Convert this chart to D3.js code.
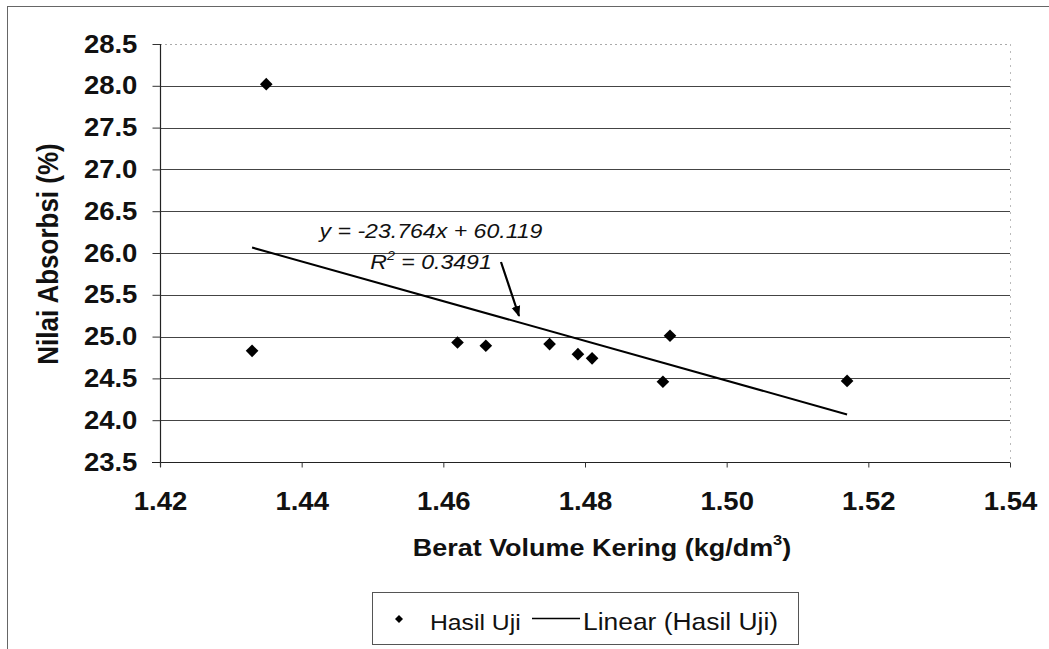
<!DOCTYPE html>
<html>
<head>
<meta charset="utf-8">
<script src="https://cdn.jsdelivr.net/npm/d3@7"></script>
<style>
  html, body { margin: 0; padding: 0; background: #fff; }
  svg { display: block; font-family: "Liberation Sans", Arial, sans-serif; }
</style>
</head>
<body>
<svg id="chart" width="1049" height="649"></svg>
<script>
// Dry unit weight (kg/dm³) and absorption (%) of the test specimens
const dryDensity = [1.433, 1.435, 1.462, 1.466, 1.475, 1.479, 1.481, 1.491, 1.492, 1.517];
const absorption = [24.83, 28.02, 24.93, 24.89, 24.91, 24.79, 24.74, 24.46, 25.01, 24.47];

// Linear trendline reported on the chart
const trendSlope = -23.764;
const trendIntercept = 60.119;
const trendR2 = 0.3491;

// Axis ticks
const xTicks = [1.42, 1.44, 1.46, 1.48, 1.50, 1.52, 1.54];
const yTicks = [23.5, 24.0, 24.5, 25.0, 25.5, 26.0, 26.5, 27.0, 27.5, 28.0, 28.5];

const svg = d3.select("#chart");
const plot = { left: 160, right: 1010, top: 44, bottom: 462 };
const SX = 1.1; // horizontal glyph stretch

const x = d3.scaleLinear().domain([1.42, 1.54]).range([plot.left, plot.right]);
const y = d3.scaleLinear().domain([23.5, 28.5]).range([plot.bottom, plot.top]);

// outer chart frame
svg.append("rect")
  .attr("x", 7.5).attr("y", 6.5)
  .attr("width", 1100).attr("height", 700)
  .attr("fill", "none").attr("stroke", "#666").attr("stroke-width", 1);

// horizontal gridlines
svg.append("g").selectAll("line")
  .data(yTicks.filter(d => d > 23.5))
  .join("line")
  .attr("x1", plot.left).attr("x2", plot.right)
  .attr("y1", d => Math.round(y(d)) + 0.5).attr("y2", d => Math.round(y(d)) + 0.5)
  .attr("stroke", d => d === 28.5 ? "#aaa" : "#444")
  .attr("stroke-width", d => d === 28.5 ? 1 : 1.2)
  .attr("stroke-dasharray", d => d === 28.5 ? "2,3" : null);

// right edge of plot area
svg.append("line")
  .attr("x1", plot.right + 0.5).attr("x2", plot.right + 0.5)
  .attr("y1", plot.top).attr("y2", plot.bottom)
  .attr("stroke", "#bbb").attr("stroke-dasharray", "2,5");

// y axis
const yAxis = svg.append("g")
  .attr("transform", `translate(${plot.left + 0.5},0)`)
  .call(d3.axisLeft(y).tickValues(yTicks).tickFormat(d3.format(".1f"))
    .tickSize(8).tickSizeOuter(0).tickPadding(13));

// x axis
const xAxis = svg.append("g")
  .attr("transform", `translate(0,${plot.bottom + 0.5})`)
  .call(d3.axisBottom(x).tickValues(xTicks).tickFormat(d3.format(".2f"))
    .tickSize(5).tickSizeOuter(0).tickPadding(25));

[yAxis, xAxis].forEach(ax => {
  ax.select(".domain").attr("stroke", "#222").attr("stroke-width", 1.2);
  ax.selectAll(".tick line").attr("stroke", "#333");
  ax.selectAll(".tick text")
    .attr("fill", "#111")
    .attr("font-size", 25)
    .attr("font-weight", "bold")
    .attr("font-family", "'Liberation Sans', Arial, sans-serif")
    .attr("transform", `scale(${SX},1)`);
});
yAxis.select(".domain").attr("d", `M0,${plot.top}V${plot.bottom + 5}`);
xAxis.select(".domain").attr("d", `M${plot.left - 8},0H${plot.right}`);

// axis titles
svg.append("text")
  .attr("transform", `translate(58,254) scale(${SX},1) rotate(-90)`)
  .attr("text-anchor", "middle")
  .attr("font-size", 26).attr("font-weight", "bold").attr("fill", "#111")
  .text("Nilai Absorbsi (%)");

const xt = svg.append("text")
  .attr("transform", `translate(602,556) scale(${SX},1)`)
  .attr("text-anchor", "middle")
  .attr("font-size", 24.5).attr("font-weight", "bold").attr("fill", "#111");
xt.append("tspan").text("Berat Volume Kering (kg/dm");
xt.append("tspan").attr("font-size", 15).attr("dy", -11).text("3");
xt.append("tspan").attr("dy", 11).text(")");

// trendline across the observed range
const xExt = d3.extent(dryDensity);
const trend = xExt.map(v => [v, trendSlope * v + trendIntercept]);
svg.append("path")
  .datum(trend)
  .attr("d", d3.line().x(d => x(d[0])).y(d => y(d[1])))
  .attr("fill", "none").attr("stroke", "#000").attr("stroke-width", 2);

// data points (diamonds)
const diamond = d3.symbol(d3.symbolSquare, 80);
svg.append("g").selectAll("path")
  .data(dryDensity.map((d, i) => [d, absorption[i]]))
  .join("path")
  .attr("d", diamond)
  .attr("transform", d => `translate(${x(d[0])},${y(d[1])}) rotate(45)`)
  .attr("fill", "#000");

// trendline equation and R² (plain hyphen for the sign)
const eq = svg.append("text")
  .attr("transform", `translate(431,238) scale(${SX},1)`)
  .attr("text-anchor", "middle")
  .attr("font-size", 21).attr("font-style", "italic").attr("fill", "#111");
eq.append("tspan").text("y = " + trendSlope.toFixed(3) + "x + " + trendIntercept.toFixed(3));

const r2 = svg.append("text")
  .attr("transform", `translate(431,269) scale(${SX},1)`)
  .attr("text-anchor", "middle")
  .attr("font-size", 21).attr("font-style", "italic").attr("fill", "#111");
r2.append("tspan").text("R");
r2.append("tspan").attr("font-size", 13).attr("dy", -9).text("2");
r2.append("tspan").attr("dy", 9).text(" = " + trendR2);

// pointer arrow from the label to the line
svg.append("defs").append("marker")
  .attr("id", "arrowHead")
  .attr("viewBox", "0 0 10 10")
  .attr("refX", 9).attr("refY", 5)
  .attr("markerWidth", 5).attr("markerHeight", 5)
  .attr("orient", "auto")
  .append("path").attr("d", "M0,1L10,5L0,9Z").attr("fill", "#000");
svg.append("line")
  .attr("x1", 501).attr("y1", 262)
  .attr("x2", 519).attr("y2", 316)
  .attr("stroke", "#000").attr("stroke-width", 2.2)
  .attr("marker-end", "url(#arrowHead)");

// legend
const lg = svg.append("g");
lg.append("rect")
  .attr("x", 372.5).attr("y", 592.5).attr("width", 426).attr("height", 52)
  .attr("fill", "#fff").attr("stroke", "#555");
lg.append("path")
  .attr("d", d3.symbol(d3.symbolSquare, 32))
  .attr("transform", "translate(399,619) rotate(45)")
  .attr("fill", "#000");
lg.append("text")
  .attr("transform", `translate(430,630) scale(${SX},1)`)
  .attr("font-size", 22.5).attr("fill", "#111")
  .text("Hasil Uji");
lg.append("line")
  .attr("x1", 532).attr("x2", 580).attr("y1", 618.5).attr("y2", 618.5)
  .attr("stroke", "#000").attr("stroke-width", 1.5);
lg.append("text")
  .attr("transform", `translate(583,630) scale(${SX},1)`)
  .attr("font-size", 24).attr("fill", "#111")
  .text("Linear (Hasil Uji)");
</script>
</body>
</html>
